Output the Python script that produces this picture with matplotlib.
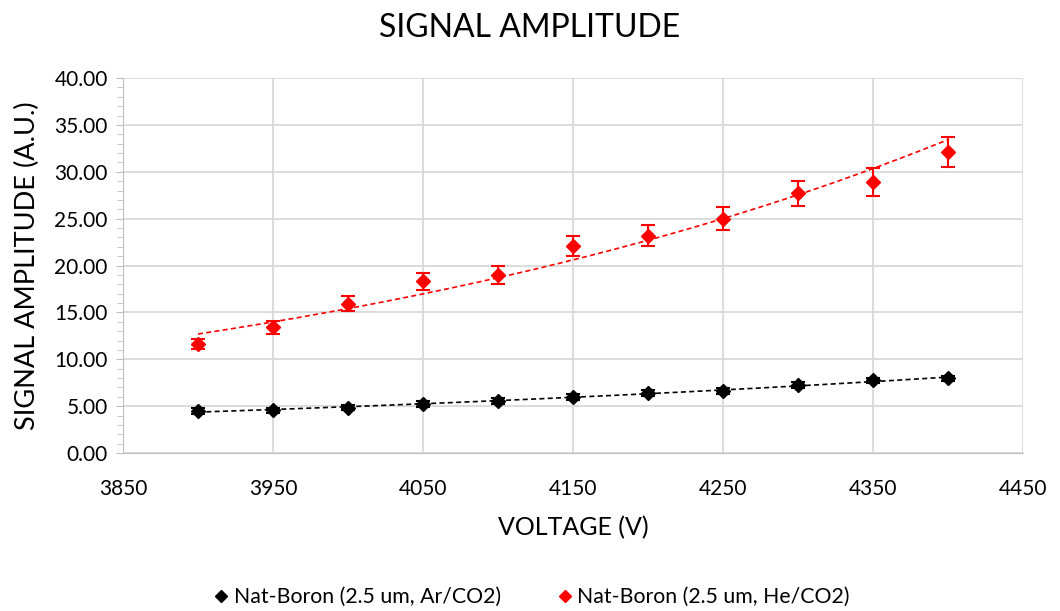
import numpy as np
import matplotlib
matplotlib.use("Agg")
import matplotlib.pyplot as plt
from matplotlib.ticker import MultipleLocator, FixedLocator, FormatStrFormatter
from matplotlib.lines import Line2D

plt.rcParams['font.family'] = ['Lato', 'DejaVu Sans']

voltage = [3900, 3950, 4000, 4050, 4100, 4150, 4200, 4250, 4300, 4350, 4400]
ar_amp = [4.48, 4.55, 4.84, 5.26, 5.58, 5.97, 6.40, 6.60, 7.25, 7.75, 7.96]
ar_err = [0.30, 0.30, 0.30, 0.30, 0.30, 0.30, 0.30, 0.30, 0.30, 0.30, 0.30]
he_amp = [11.6, 13.4, 15.9, 18.3, 19.0, 22.1, 23.2, 25.0, 27.7, 28.9, 32.1]
he_err = [0.55, 0.70, 0.80, 0.93, 0.96, 1.08, 1.15, 1.20, 1.35, 1.45, 1.60]
x_ticks = [3850, 3950, 4050, 4150, 4250, 4350, 4450]

ar_label = "Nat-Boron (2.5 um, Ar/CO2)"
he_label = "Nat-Boron (2.5 um, He/CO2)"

fig = plt.figure(figsize=(10.6, 6.11), dpi=100)
ax = fig.add_axes([123/1060, 1-453/611, 900/1060, 375/611])

x = np.array(voltage, dtype=float)
xf = np.linspace(x.min(), x.max(), 200)

for amp, err, col, lab in [(ar_amp, ar_err, 'black', ar_label), (he_amp, he_err, '#ff0000', he_label)]:
    amp = np.array(amp)
    ax.errorbar(x, amp, yerr=err, fmt='D', color=col, ecolor=col, markersize=7.5,
                capsize=5, elinewidth=1.5, capthick=1.5, label=lab, zorder=3)
    b, a = np.polyfit(x, np.log(amp), 1)
    ax.plot(xf, np.exp(a + b*xf), linestyle=(0, (3, 2)), color=col, lw=1.2, zorder=2)

ax.set_xlim(3850, 4450)
ax.set_ylim(0, 40)
ax.xaxis.set_major_locator(FixedLocator(x_ticks))
ax.yaxis.set_major_locator(MultipleLocator(5))
ax.yaxis.set_minor_locator(MultipleLocator(1))
ax.yaxis.set_major_formatter(FormatStrFormatter('%.2f'))
ax.grid(True, which='major', color='#d9d9d9', lw=1.3)
ax.set_axisbelow(True)
for s in ['top', 'right']:
    ax.spines[s].set_visible(False)
for s in ['left', 'bottom']:
    ax.spines[s].set_color('#bfbfbf')
ax.tick_params(axis='y', which='both', color='#bfbfbf', length=5, labelsize=15, labelcolor='black', pad=6)
ax.tick_params(axis='y', which='minor', length=4)
ax.tick_params(axis='x', length=0, labelsize=15, pad=19)

ax.set_xlabel('VOLTAGE (V)', fontsize=18, labelpad=12)
ax.set_ylabel('SIGNAL AMPLITUDE (A.U.)', fontsize=19.5, labelpad=10)
fig.text(0.5, 1-28/611, 'SIGNAL AMPLITUDE', ha='center', va='center', fontsize=23)

h, l = ax.get_legend_handles_labels()
handles = [Line2D([], [], marker='D', color=c, ls='none', markersize=6) for c in ['black', '#ff0000']]
fig.legend(handles, l, loc='center', bbox_to_anchor=(0.5, 1-597/611), ncol=2, frameon=False,
           fontsize=15.3, handletextpad=0.1, columnspacing=2.5, handlelength=1)

fig.savefig('out.png', dpi=100)
